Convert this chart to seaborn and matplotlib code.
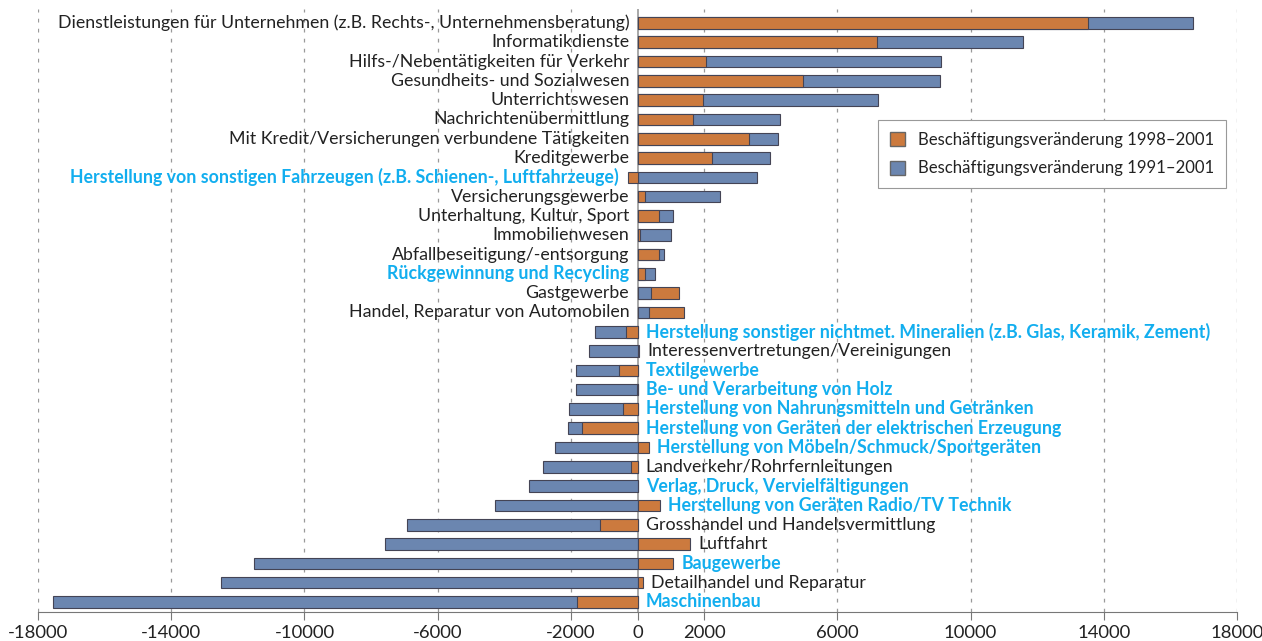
import matplotlib
matplotlib.use("Agg")
from matplotlib import pyplot as plt
import matplotlib.patches as mpatches
import pandas as pd
import seaborn as sns

branchen = [
    "Dienstleistungen für Unternehmen (z.B. Rechts-, Unternehmensberatung)",
    "Informatikdienste",
    "Hilfs-/Nebentätigkeiten für Verkehr",
    "Gesundheits- und Sozialwesen",
    "Unterrichtswesen",
    "Nachrichtenübermittlung",
    "Mit Kredit/Versicherungen verbundene Tätigkeiten",
    "Kreditgewerbe",
    "Herstellung von sonstigen Fahrzeugen (z.B. Schienen-, Luftfahrzeuge)",
    "Versicherungsgewerbe",
    "Unterhaltung, Kultur, Sport",
    "Immobilienwesen",
    "Abfallbeseitigung/-entsorgung",
    "Rückgewinnung und Recycling",
    "Gastgewerbe",
    "Handel, Reparatur von Automobilen",
    "Herstellung sonstiger nichtmet. Mineralien (z.B. Glas, Keramik, Zement)",
    "Interessenvertretungen/Vereinigungen",
    "Textilgewerbe",
    "Be- und Verarbeitung von Holz",
    "Herstellung von Nahrungsmitteln und Getränken",
    "Herstellung von Geräten der elektrischen Erzeugung",
    "Herstellung von Möbeln/Schmuck/Sportgeräten",
    "Landverkehr/Rohrfernleitungen",
    "Verlag, Druck, Vervielfältigungen",
    "Herstellung von Geräten Radio/TV Technik",
    "Grosshandel und Handelsvermittlung",
    "Luftfahrt",
    "Baugewerbe",
    "Detailhandel und Reparatur",
    "Maschinenbau",
]

# industrie branches are highlighted in blue bold
industrie = [
    False, False, False, False, False, False, False, False, True, False,
    False, False, False, True, False, False, True, False, True, True,
    True, True, True, False, True, True, False, False, True, False, True,
]

veraenderung_1998_2001 = [
    13520, 7190, 2060, 4960, 1980, 1680, 3340, 2230, -300, 230,
    660, 90, 660, 230, 1260, 1400, -340, 50, -570, -20,
    -430, -1660, 350, -200, 20, 680, -1130, 1580, 1080, 170, -1810,
]

veraenderung_1991_2001 = [
    16690, 11580, 9100, 9080, 7230, 4290, 4210, 3980, 3580, 2480,
    1070, 1020, 810, 540, 420, 360, -1270, -1470, -1850, -1850,
    -2070, -2090, -2490, -2850, -3250, -4270, -6910, -7580, -11500, -12510, -17540,
]

x_ticks = [-18000, -14000, -10000, -6000, -2000, 0, 2000, 6000, 10000, 14000, 18000]

orange = '#CC7A3E'
blau = '#6B86B0'
hellblau = '#12AEEF'
schrift = 'Lato'

df = pd.DataFrame({'branche': branchen,
                   'v98': veraenderung_1998_2001,
                   'v91': veraenderung_1991_2001})

fig = plt.figure(figsize=(12.62, 6.41), dpi=100)
ax = fig.add_axes([38/1262, 29/641, 1199/1262, 602.6/641])

sns.barplot(data=df, x='v91', y='branche', orient='h', color=blau, width=0.6,
            edgecolor='#444455', linewidth=0.8, saturation=1, ax=ax)
sns.barplot(data=df, x='v98', y='branche', orient='h', color=orange, width=0.6,
            edgecolor='#444455', linewidth=0.8, saturation=1, ax=ax)

# larger bar behind, smaller in front
n = len(branchen)
for i in range(n):
    p_blau = ax.patches[i]
    p_orange = ax.patches[n + i]
    if abs(veraenderung_1998_2001[i]) > abs(veraenderung_1991_2001[i]):
        p_orange.set_zorder(2)
        p_blau.set_zorder(3)
    else:
        p_blau.set_zorder(2)
        p_orange.set_zorder(3)

for i, name in enumerate(branchen):
    o, b = veraenderung_1998_2001[i], veraenderung_1991_2001[i]
    if b > 0:
        x, ha, dx = min(0, o, b), 'right', -6
    else:
        x, ha, dx = max(0, o, b), 'left', 6
    if industrie[i]:
        ax.annotate(name, (x, i), xytext=(dx, 0), textcoords='offset points',
                    ha=ha, va='center', fontsize=12.8, color=hellblau,
                    fontweight='bold', family=schrift)
    else:
        ax.annotate(name, (x, i), xytext=(dx, 0), textcoords='offset points',
                    ha=ha, va='center', fontsize=12.8, color='#222222',
                    family=schrift)

ax.set_xlim(-18000, 18000)
ax.set_ylim(n - 1 + 0.52, -0.7)
ax.set_xticks(x_ticks)
ax.set_xticklabels([str(t) for t in x_ticks], fontsize=13.3, family=schrift, color='#222222')
ax.set_yticks([])
ax.set_xlabel('')
ax.set_ylabel('')

for t in x_ticks:
    if t != 0:
        ax.axvline(t, color='#999999', lw=0.9, ls=(0, (3, 5)), zorder=1)
ax.axvline(0, color='#999999', lw=1.2, zorder=1)

for s in ['top', 'right', 'left']:
    ax.spines[s].set_visible(False)
ax.spines['bottom'].set_color('#777777')
ax.tick_params(axis='x', direction='out', length=6, color='#777777', pad=3)

handles = [mpatches.Patch(facecolor=orange, edgecolor='#666666', label='Beschäftigungsveränderung 1998–2001'),
           mpatches.Patch(facecolor=blau, edgecolor='#666666', label='Beschäftigungsveränderung 1991–2001')]
leg = ax.legend(handles=handles, loc='upper left', bbox_to_anchor=(840/1199, (612-120)/602.6),
                borderaxespad=0, fancybox=False, framealpha=1, edgecolor='#999999',
                handlelength=0.9, handleheight=0.9, handletextpad=0.8,
                labelspacing=0.75, borderpad=0.7, prop={'family': schrift, 'size': 12.1})
leg.get_frame().set_linewidth(0.8)
for txt in leg.get_texts():
    txt.set_color('#222222')

fig.savefig('out.png', dpi=100)
